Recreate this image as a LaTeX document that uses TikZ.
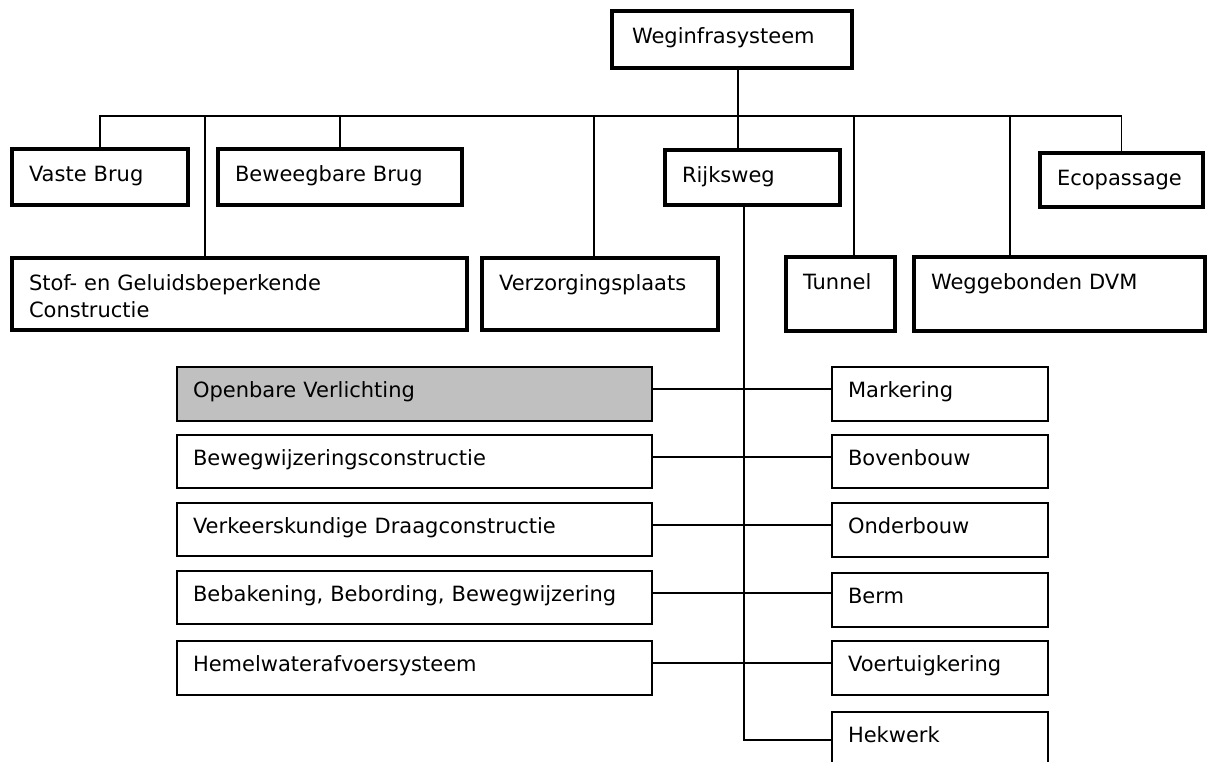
\documentclass[tikz,border=0pt]{standalone}
\usepackage{fontspec}
\setmainfont{DejaVu Sans}
\definecolor{lightgrey}{RGB}{192,192,192}

\begin{document}
\begin{tikzpicture}[x=1pt,y=-1pt,
  box/.style={draw, anchor=north west, outer sep=0pt, inner ysep=0pt, align=left,
    font=\fontsize{21}{27}\selectfont},
  top box/.style={box, line width=4pt, inner xsep=17pt, text height=32pt},
  sub box/.style={box, line width=2pt, inner xsep=16pt, text height=30pt},
  link/.style={line width=1.8pt}]
\useasboundingbox[fill=white] (0,0) rectangle (1207,761);

% hoofdstructuur
\node [top box, inner xsep=20pt, text width=200pt, text depth=25pt] (wis) at (612,11) {Weginfrasysteem};
\node [top box, text width=142pt, text depth=24pt] (vb) at (12,149) {Vaste Brug};
\node [top box, text width=210pt, text depth=24pt] (bb) at (218,149) {Beweegbare Brug};
\node [top box, text width=141pt, text depth=23pt] (rw) at (665,150) {Rijksweg};
\node [top box, text width=129pt, text depth=22pt] (eco) at (1040,153) {Ecopassage};
\node [top box, text width=421pt, text depth=40pt] (sg) at (12,258) {Stof- en Geluidsbeperkende\\Constructie};
\node [top box, text width=202pt, text depth=40pt] (vz) at (482,258) {Verzorgingsplaats};
\node [top box, text width=75pt, text depth=42pt] (tu) at (786,257) {Tunnel};
\node [top box, text width=257pt, text depth=42pt] (wd) at (914,257) {Weggebonden DVM};

% onderdelen Rijksweg, links
\node [sub box, fill=lightgrey, text width=443pt, text depth=24pt] (ov) at (177,367) {Openbare Verlichting};
\node [sub box, text width=443pt, text depth=23pt] (bw) at (177,435) {Bewegwijzeringsconstructie};
\node [sub box, text width=443pt, text depth=23pt] (vd) at (177,503) {Verkeerskundige Draagconstructie};
\node [sub box, text width=443pt, text depth=23pt] (bk) at (177,571) {Bebakening, Bebording, Bewegwijzering};
\node [sub box, text width=443pt, text depth=24pt] (hw) at (177,641) {Hemelwaterafvoersysteem};

% onderdelen Rijksweg, rechts
\node [sub box, text width=184pt, text depth=24pt] (mk) at (832,367) {Markering};
\node [sub box, text width=184pt, text depth=23pt] (bo) at (832,435) {Bovenbouw};
\node [sub box, text width=184pt, text depth=24pt] (ond) at (832,503) {Onderbouw};
\node [sub box, text width=184pt, text depth=24pt] (berm) at (832,573) {Berm};
\node [sub box, text width=184pt, text depth=24pt] (vk) at (832,641) {Voertuigkering};
\node [sub box, text width=184pt, text depth=40pt] (hk) at (832,712) {Hekwerk};

% verbindingen bovenaan
\coordinate (bus) at (0,116);
\draw [link] ([xshift=126pt]wis.south west) -- ([xshift=73pt]rw.north west);
\draw [link] (vb.north) |- (eco.north |- bus) -- (eco.north);
\draw [link] (bb.north) -- (bb.north |- bus);
\draw [link] ([xshift=193pt]sg.north west) -- ([xshift=193pt]sg.north west |- bus);
\draw [link] ([xshift=112pt]vz.north west) -- ([xshift=112pt]vz.north west |- bus);
\draw [link] ([xshift=68pt]tu.north west) -- ([xshift=68pt]tu.north west |- bus);
\draw [link] ([xshift=96pt]wd.north west) -- ([xshift=96pt]wd.north west |- bus);

% verbindingen Rijksweg
\draw [link] ([xshift=79pt]rw.south west) |- ([yshift=-28pt]hk.north west);
\draw [link] ([yshift=-22pt]ov.north east) -- ([yshift=-22pt]mk.north west);
\draw [link] ([yshift=-22pt]bw.north east) -- ([yshift=-22pt]bo.north west);
\draw [link] ([yshift=-22pt]vd.north east) -- ([yshift=-22pt]ond.north west);
\draw [link] ([yshift=-22pt]bk.north east) -- ([yshift=-20pt]berm.north west);
\draw [link] ([yshift=-22pt]hw.north east) -- ([yshift=-22pt]vk.north west);
\end{tikzpicture}
\end{document}
